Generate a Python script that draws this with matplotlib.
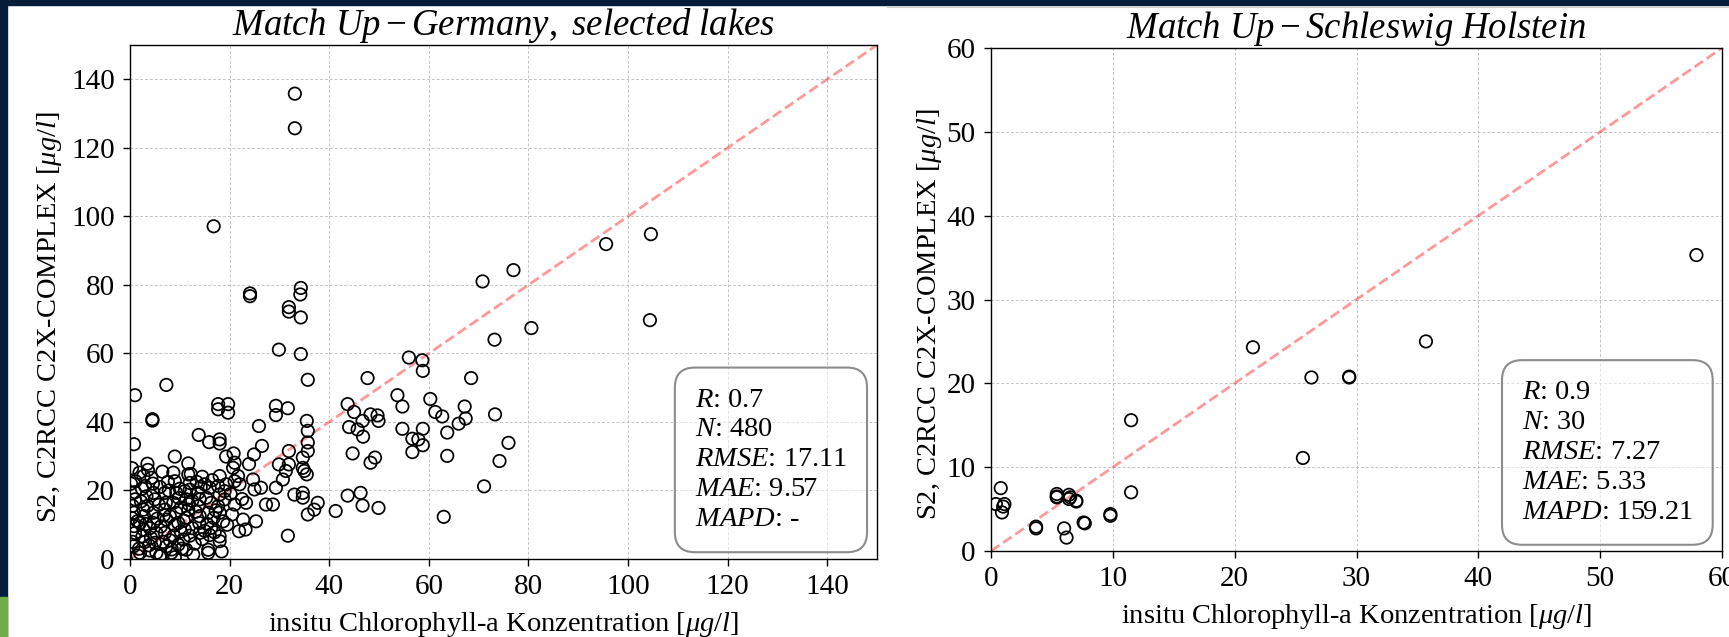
import matplotlib
matplotlib.use("Agg")
import matplotlib.pyplot as plt
from matplotlib.patches import Rectangle
from matplotlib.lines import Line2D

plt.rcParams['font.family'] = ['Liberation Serif', 'DejaVu Serif']
plt.rcParams['mathtext.fontset'] = 'custom'
plt.rcParams['mathtext.rm'] = 'Liberation Serif'
plt.rcParams['mathtext.it'] = 'Liberation Serif:italic'
plt.rcParams['mathtext.bf'] = 'Liberation Serif:bold'

# left chart: Germany, selected lakes (insitu, S2)
de_x = [33.1, 33.1, 16.8, 95.6, 104.6, 77.0, 70.8, 104.4, 80.6, 73.2, 24.1, 24.1, 34.3, 34.2, 31.9, 31.9,
        34.3, 29.9, 34.3, 56.0, 58.7, 58.8, 35.7, 47.7, 68.5, 7.3, 1.0, 53.7, 60.3, 54.7, 43.7, 67.2,
        17.7, 17.7, 19.7, 19.7, 29.3, 29.3, 31.7, 45.0, 48.3, 49.7, 61.3, 62.7, 73.3, 4.5, 4.5, 35.5,
        46.7, 49.9, 67.4, 66.0, 25.9, 44.0, 45.7, 54.7, 58.8, 35.7, 63.7, 13.8, 46.8, 56.7, 57.9, 15.9,
        18.0, 18.0, 35.7, 76.0, 0.8, 26.5, 58.8, 35.7, 31.9, 56.7, 44.7, 20.8, 24.9, 63.7, 9.0, 19.3,
        34.7, 49.2, 74.2, 48.3, 21.0, 3.5, 11.7, 23.9, 29.9, 31.9, 20.7, 34.7, 31.3, 35.0, 1.9, 8.7,
        11.7, 35.5, 18.0, 21.7, 2.7, 4.3, 24.7, 30.7, 1.1, 9.0, 21.0, 12.0, 15.0, 19.3, 22.0, 3.0,
        17.7, 71.1, 16.0, 26.3, 29.3, 25.0, 11.0, 1.0, 4.7, 7.0, 9.3, 13.7, 34.7, 46.3, 33.0, 18.0,
        43.7, 3.3, 15.3, 34.7, 1.0, 5.0, 11.3, 14.0, 19.0, 7.2, 8.7, 16.3, 23.3, 37.7, 27.3, 28.7,
        21.0, 46.7, 13.7, 17.7, 49.9, 0.8, 2.7, 7.0, 11.7, 37.0, 41.3, 4.7, 9.3, 15.7, 18.0, 35.7,
        2.8, 14.0, 63.0, 11.3, 7.3, 22.7, 18.7, 25.3, 4.7, 9.7, 13.9, 0.8, 16.3, 2.7, 11.0, 23.2,
        21.9, 1.0, 5.3, 7.0, 14.0, 31.7, 2.5, 18.0, 10.7, 18.0, 5.0, 9.7, 0.7, 7.3, 11.3, 15.7,
        2.0, 5.3, 8.3, 15.7, 12.7, 0.3, 0.5, 1.5, 3.8, 6.2, 6.0, 8.0, 10.2, 12.5, 13.0, 3.5,
        6.0, 8.0, 10.0, 2.0, 5.5, 12.5, 16.8, 4.0, 9.0, 17.0, 19.5, 20.5, 22.5, 0.2, 6.5, 14.5, 12.0,
        0.5, 1.5, 2.2, 3.0, 4.0, 5.8, 6.8, 7.8, 8.8, 9.8, 10.8, 12.0, 13.2, 14.5, 15.5, 16.5,
        0.4, 1.8, 3.2, 4.6, 6.2, 7.6, 9.0, 10.4, 11.8, 13.4, 15.0, 17.2, 19.0, 2.4, 4.2, 6.6,
        8.4, 10.2, 12.2, 14.2, 16.0, 18.4, 20.2, 3.6]
de_y = [135.8, 125.7, 97.1, 91.9, 94.8, 84.3, 81.0, 69.7, 67.4, 64.0, 77.5, 76.7, 79.1, 77.2, 73.5, 72.2,
        70.5, 61.1, 59.8, 58.8, 58.0, 54.9, 52.3, 52.8, 52.8, 50.8, 47.8, 47.8, 46.7, 44.5, 45.2, 44.5,
        45.2, 43.7, 45.2, 42.7, 44.7, 42.0, 44.0, 42.9, 42.2, 41.9, 42.9, 41.6, 42.2, 40.8, 40.4, 40.3,
        40.3, 40.3, 41.0, 39.5, 38.8, 38.5, 37.8, 38.0, 38.0, 37.4, 36.9, 36.2, 35.7, 35.1, 34.9, 34.1,
        34.9, 33.7, 34.0, 33.9, 33.5, 33.0, 33.2, 31.5, 31.5, 31.2, 30.8, 30.8, 30.5, 30.1, 29.9, 29.9,
        29.6, 29.6, 28.6, 28.1, 28.1, 27.8, 27.9, 27.7, 27.6, 27.6, 26.6, 26.6, 25.7, 25.7, 25.2, 25.2,
        24.7, 24.7, 24.2, 24.2, 24.2, 23.7, 23.2, 23.2, 22.7, 22.7, 22.7, 22.2, 21.8, 21.8, 21.8, 21.3,
        21.3, 21.2, 20.8, 20.8, 20.8, 20.3, 19.8, 19.5, 19.3, 19.3, 19.3, 19.3, 19.3, 19.3, 18.8, 18.8,
        18.5, 18.3, 17.9, 17.9, 17.4, 17.4, 17.4, 17.4, 17.4, 16.4, 16.4, 16.4, 16.4, 16.4, 15.9, 15.9,
        15.9, 15.6, 15.4, 15.4, 14.9, 13.5, 14.4, 14.4, 14.4, 14.4, 14.0, 13.5, 13.5, 13.5, 13.5, 13.0,
        12.5, 12.5, 12.3, 12.0, 11.5, 11.5, 11.0, 11.0, 10.5, 10.5, 10.5, 9.6, 9.1, 8.6, 8.6, 8.6,
        8.1, 7.6, 7.6, 7.6, 7.6, 6.8, 6.6, 6.6, 5.7, 5.2, 4.7, 4.2, 3.7, 3.7, 2.7, 2.7,
        1.8, 1.8, 1.8, 1.8, 1.3, 12.0, 5.0, 1.0, 4.0, 9.5, 0.8, 12.5, 15.0, 9.0, 4.5, 15.5,
        21.0, 5.5, 20.5, 10.5, 11.8, 17.0, 12.0, 2.5, 0.5, 7.8, 10.0, 13.0, 17.5, 22.0, 25.5, 24.0, 6.8,
        15.5, 11.0, 16.8, 5.0, 9.0, 15.8, 12.8, 20.0, 6.8, 17.8, 11.2, 20.2, 13.8, 5.8, 10.2, 23.0,
        26.5, 3.0, 10.2, 22.0, 1.2, 22.5, 9.8, 3.0, 16.0, 22.5, 8.2, 14.2, 19.8, 20.5, 6.2, 5.0,
        2.8, 8.0, 24.8, 21.0, 7.0, 2.2, 19.0, 26.0]
de_stats = "$R$: 0.7\n$N$: 480\n$RMSE$: 17.11\n$MAE$: 9.57\n$MAPD$: -"

# right chart: Schleswig Holstein
sh_x = [57.9, 35.7, 21.5, 26.3, 29.4, 29.4, 25.6, 11.5, 11.5, 9.8, 9.8, 7.6, 7.7, 7.0, 6.4, 6.4,
        6.5, 5.4, 5.4, 5.4, 6.0, 6.2, 3.7, 3.7, 0.8, 1.1, 0.9, 0.4, 1.0, 7.0]
sh_y = [35.3, 25.0, 24.3, 20.7, 20.7, 20.8, 11.1, 15.6, 7.0, 4.4, 4.2, 3.4, 3.3, 6.0, 6.7, 6.2,
        6.4, 6.8, 6.5, 6.4, 2.7, 1.6, 2.9, 2.7, 7.5, 5.6, 4.6, 5.6, 5.3, 5.9]
sh_stats = "$R$: 0.9\n$N$: 30\n$RMSE$: 7.27\n$MAE$: 5.33\n$MAPD$: 159.21"

xlabel = r"insitu Chlorophyll-a Konzentration [$\mu g/l$]"
ylabel = r"S2, C2RCC C2X-COMPLEX [$\mu g/l$]"

fig = plt.figure(figsize=(17.29, 6.37), dpi=100)
fig.patch.set_facecolor("white")

# slide frame
fig.add_artist(Rectangle((0, 1 - 5 / 637), 1, 5 / 637, transform=fig.transFigure, color="#051d38", zorder=0))
fig.add_artist(Rectangle((0, 0), 7 / 1729, 1, transform=fig.transFigure, color="#051d38", zorder=0))
fig.add_artist(Rectangle((0, 0), 7 / 1729, 40 / 637, transform=fig.transFigure, color="#70ad47", zorder=1))
fig.add_artist(Line2D([888 / 1729, 1], [1 - 6.5 / 637, 1 - 6.5 / 637], transform=fig.transFigure,
                      color="#d0d0d0", lw=1.5))

ax1 = fig.add_axes([130 / 1729, 78 / 637, 747 / 1729, 514 / 637])
ax2 = fig.add_axes([991 / 1729, 86 / 637, 731 / 1729, 503 / 637])


def draw_panel(ax, xs, ys, lim, ticks, title, stats, ylab_x):
    ax.set_axisbelow(True)
    ax.grid(True, color="#c4c4c4", linestyle=(0, (3, 2)), linewidth=0.7)
    ax.scatter(xs, ys, s=80, facecolors="none", edgecolors="black", linewidths=1.25, zorder=3)
    ax.plot([0, lim], [0, lim], color="red", alpha=0.4, linestyle="--", linewidth=2, zorder=2)
    ax.set_xlim(0, lim)
    ax.set_ylim(0, lim)
    ax.set_xticks(ticks)
    ax.set_yticks(ticks)
    ax.tick_params(labelsize=21, length=5, width=1, pad=6)
    for sp in ax.spines.values():
        sp.set_linewidth(1.0)
    ax.set_title(title, fontsize=26.5, pad=6)
    ax.set_xlabel(xlabel, fontsize=20.5, labelpad=7)
    ax.set_ylabel(ylabel, fontsize=20.5)
    ax.yaxis.set_label_coords(ylab_x, 0.47)
    ax.text(0.96, 0.052, stats, transform=ax.transAxes, fontsize=20.5, ha="right", va="bottom",
            multialignment="left", linespacing=1.26, zorder=5,
            bbox=dict(boxstyle="round,pad=0.7", facecolor=(1, 1, 1, 0.5), edgecolor="#8c8c8c", linewidth=1.5))


draw_panel(ax1, de_x, de_y, 150, list(range(0, 141, 20)),
           r"$Match\ Up - Germany,\ selected\ lakes$", de_stats, -0.088)
draw_panel(ax2, sh_x, sh_y, 60, list(range(0, 61, 10)),
           r"$Match\ Up - Schleswig\ Holstein$", sh_stats, -0.064)

fig.savefig("out.png", dpi=100, facecolor=fig.get_facecolor())
